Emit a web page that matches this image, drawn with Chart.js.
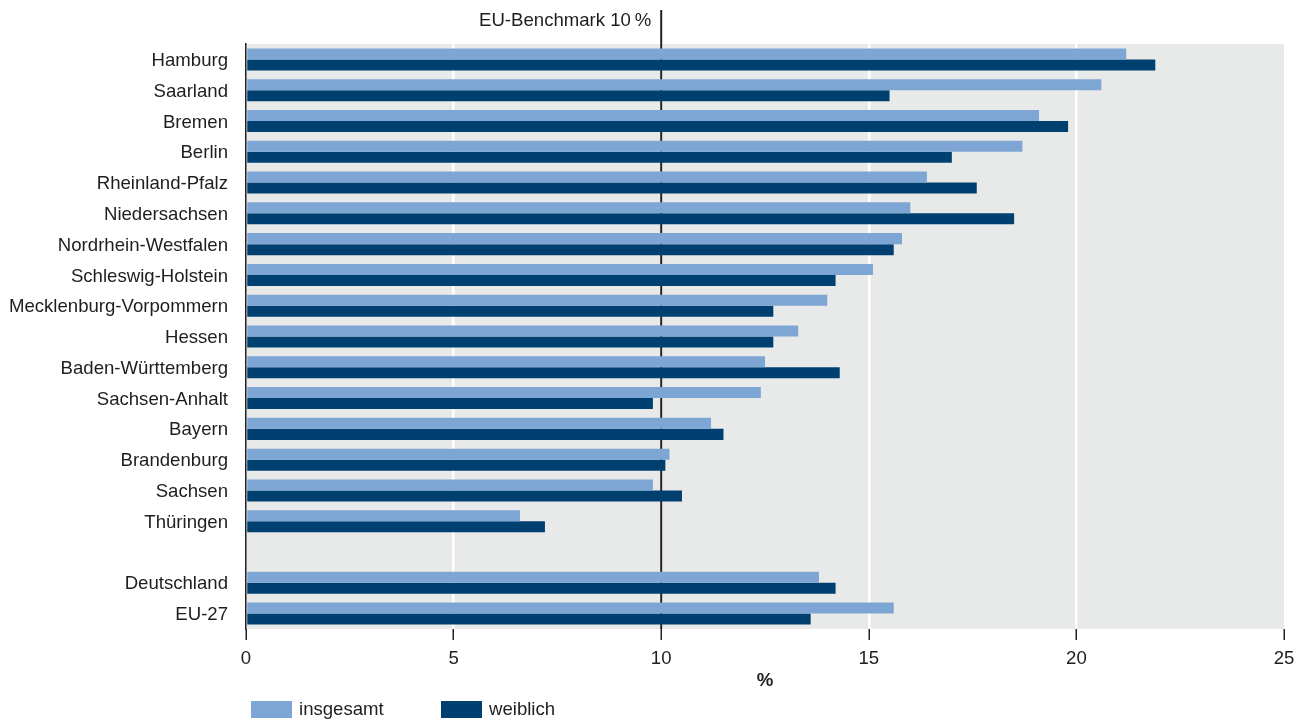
<!DOCTYPE html>
<html><head><meta charset="utf-8">
<script src="https://cdn.jsdelivr.net/npm/chart.js@4"></script>
<style>html,body{margin:0;padding:0;background:#fff}#wrap{width:1310px;height:720px}</style>
</head>
<body><div id="wrap"><canvas id="c" width="1310" height="720"></canvas></div>
<script>
const categories = ['Hamburg','Saarland','Bremen','Berlin','Rheinland-Pfalz','Niedersachsen','Nordrhein-Westfalen','Schleswig-Holstein','Mecklenburg-Vorpommern','Hessen','Baden-Württemberg','Sachsen-Anhalt','Bayern','Brandenburg','Sachsen','Thüringen','','Deutschland','EU-27'];
const insgesamt = [21.2,20.6,19.1,18.7,16.4,16.0,15.8,15.1,14.0,13.3,12.5,12.4,11.2,10.2,9.8,6.6,null,13.8,15.6];
const weiblich  = [21.9,15.5,19.8,17.0,17.6,18.5,15.6,14.2,12.7,12.7,14.3,9.8,11.5,10.1,10.5,7.2,null,14.2,13.6];
const seriesNames = ['insgesamt','weiblich'];
const benchmarkValue = 10;
const benchmarkLabel = 'EU-Benchmark 10\u2009%';
const xTicks = [0,5,10,15,20,25];
const axisTitle = '%';

const FONT = "'Liberation Sans', Arial, sans-serif";
const FS = 18.6;
const TEXT = '#1e1e1e';
const COL_LIGHT = '#7ea6d4';
const COL_DARK = '#004070';
const PLOT_BG = '#e8e9e9';

Chart.defaults.font.family = FONT;
Chart.defaults.font.size = FS;
Chart.defaults.color = TEXT;

const bgPlugin = {
  id: 'bg',
  beforeDraw(chart) {
    const {ctx, chartArea: a} = chart;
    ctx.save();
    ctx.fillStyle = PLOT_BG;
    ctx.fillRect(a.left, a.top, a.right - a.left, a.bottom - a.top);
    ctx.restore();
  }
};

const benchPlugin = {
  id: 'bench',
  beforeDatasetsDraw(chart) {
    const {ctx, chartArea: a} = chart;
    const x = chart.scales.x.getPixelForValue(benchmarkValue);
    ctx.save();
    ctx.strokeStyle = '#222';
    ctx.lineWidth = 2;
    ctx.beginPath();
    ctx.moveTo(x, 10);
    ctx.lineTo(x, a.bottom);
    ctx.stroke();
    ctx.fillStyle = TEXT;
    ctx.font = FS + 'px ' + FONT;
    ctx.textAlign = 'right';
    ctx.textBaseline = 'middle';
    ctx.fillText(benchmarkLabel, x - 10, 21);
    ctx.restore();
  }
};

const legendPlugin = {
  id: 'customLegend',
  afterDraw(chart) {
    const {ctx, chartArea: a} = chart;
    const offsets = [5, 195];
    ctx.save();
    ctx.font = FS + 'px ' + FONT;
    ctx.textBaseline = 'middle';
    ctx.textAlign = 'left';
    chart.data.datasets.forEach((ds, i) => {
      const bx = a.left + offsets[i];
      ctx.fillStyle = ds.backgroundColor;
      ctx.fillRect(bx, 701, 41, 17);
      ctx.fillStyle = TEXT;
      ctx.fillText(ds.label, bx + 48, 710);
    });
    ctx.restore();
  }
};

new Chart(document.getElementById('c'), {
  type: 'bar',
  data: {
    labels: categories,
    datasets: [
      {label: seriesNames[0], data: insgesamt, backgroundColor: COL_LIGHT, borderWidth: 0},
      {label: seriesNames[1], data: weiblich, backgroundColor: COL_DARK, borderWidth: 0}
    ]
  },
  options: {
    indexAxis: 'y',
    responsive: false,
    animation: false,
    devicePixelRatio: 1,
    datasets: {bar: {categoryPercentage: 0.715, barPercentage: 1.0}},
    layout: {padding: {top: 44, right: 26, left: 0, bottom: 0}},
    plugins: {legend: {display: false}, tooltip: {enabled: false}},
    scales: {
      x: {
        type: 'linear', min: 0, max: 25,
        afterBuildTicks(s) { s.ticks = xTicks.map(v => ({value: v})); },
        afterFit(s) { s.height = 91; },
        ticks: {padding: 8, color: TEXT, font: {size: FS}},
        grid: {
          color: c => (c.tick && (c.tick.value === 0 || c.tick.value === 25)) ? 'rgba(0,0,0,0)' : '#ffffff',
          lineWidth: 2.5,
          tickColor: '#222',
          tickLength: 11,
          tickWidth: 1.5,
          drawOnChartArea: true
        },
        border: {display: false},
        title: {display: true, text: axisTitle, font: {size: FS, weight: 'bold'}, color: TEXT, padding: {top: 0, bottom: 28}}
      },
      y: {
        type: 'category',
        afterFit(s) { s.width = 246; },
        ticks: {padding: 18, labelOffset: 1.5, color: TEXT, font: {size: FS}, autoSkip: false},
        grid: {display: false, drawTicks: false},
        border: {display: true, color: '#222', width: 1.5}
      }
    }
  },
  plugins: [bgPlugin, benchPlugin, legendPlugin]
});
</script>
</body></html>
